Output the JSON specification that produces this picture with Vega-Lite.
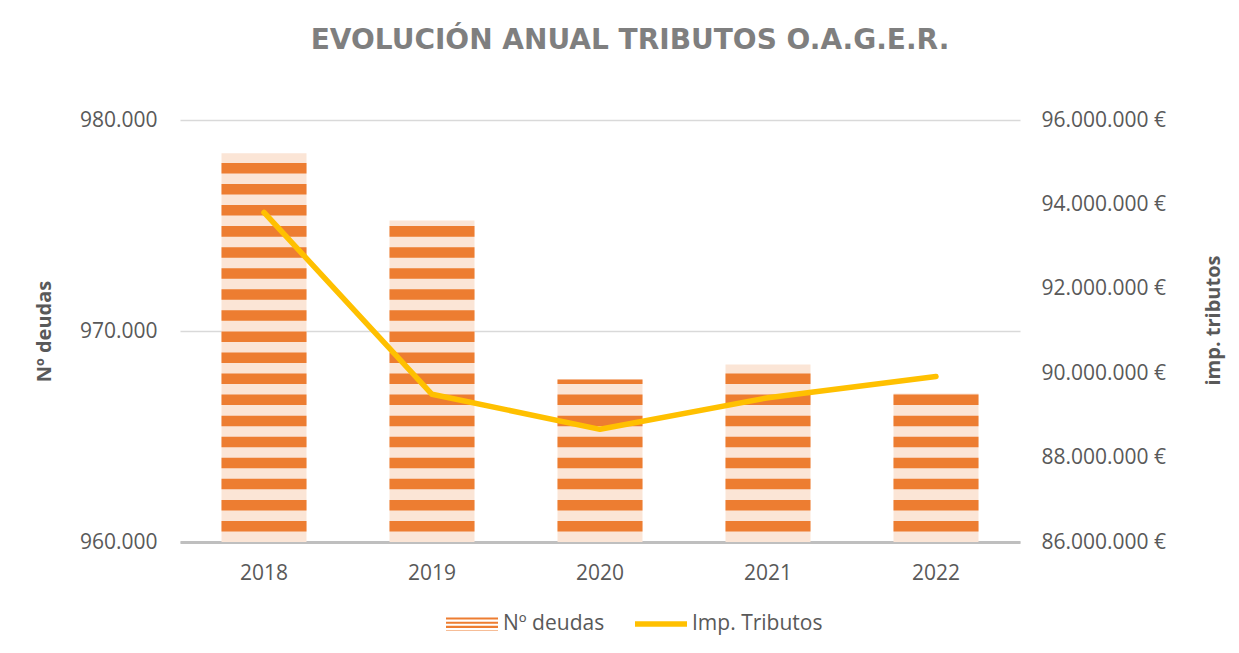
{
  "$schema": "https://vega.github.io/schema/vega-lite/v6.json",
  "width": 840,
  "height": 422,
  "autosize": {"type": "none"},
  "padding": {"left": 180, "top": 120, "right": 219, "bottom": 111},
  "background": "white",
  "config": {
    "locale": {"number": {"decimal": ",", "thousands": ".", "grouping": [3], "currency": ["", " €"]}},
    "view": {"stroke": null},
    "font": "Open Sans"
  },
  "title": {
    "text": "EVOLUCIÓN ANUAL TRIBUTOS O.A.G.E.R.",
    "anchor": "middle",
    "frame": "group",
    "dx": 30,
    "offset": 54,
    "font": "DejaVu Sans",
    "fontSize": 28,
    "fontWeight": "bold",
    "color": "#7F7F7F"
  },
  "data": {
    "values": [
      {"year": "2018", "deudas": 978420, "importe": 93810000},
      {"year": "2019", "deudas": 975240, "importe": 89500000},
      {"year": "2020", "deudas": 967700, "importe": 88670000},
      {"year": "2021", "deudas": 968410, "importe": 89420000},
      {"year": "2022", "deudas": 967040, "importe": 89920000}
    ]
  },
  "layer": [
    {
      "layer": [
        {
          "mark": {"type": "bar", "size": 85, "color": "#FBE5D6"},
          "encoding": {
            "x": {
              "field": "year", "type": "ordinal",
              "scale": {"paddingInner": 0, "paddingOuter": 0},
              "axis": {
                "title": null, "labelAngle": 0, "ticks": false,
                "domainColor": "#BFBFBF", "domainWidth": 3,
                "labelFont": "Open Sans", "labelFontSize": 21, "labelColor": "#595959",
                "labelPadding": 20
              }
            },
            "y": {
              "field": "deudas", "type": "quantitative",
              "scale": {"domain": [960000, 980000], "zero": false, "nice": false},
              "axis": {
                "title": "Nº deudas",
                "values": [960000, 970000, 980000],
                "format": ",.0f",
                "domain": false, "ticks": false,
                "gridColor": "#D9D9D9", "gridWidth": 1.5,
                "labelFont": "Open Sans", "labelFontSize": 21, "labelColor": "#595959",
                "labelPadding": 23,
                "titleFont": "Open Sans", "titleFontSize": 20, "titleFontWeight": "bold", "titleColor": "#595959",
                "titleX": -136, "titleY": 211, "titleAngle": -90, "titleBaseline": "middle", "titleAlign": "center"
              }
            },
            "y2": {"datum": 960000}
          }
        },
        {
          "mark": {"type": "rule", "strokeWidth": 85, "strokeDash": [10.53, 10.53], "strokeDashOffset": 10.53, "strokeCap": "butt"},
          "encoding": {
            "x": {"field": "year", "type": "ordinal"},
            "y": {"datum": 960000, "type": "quantitative", "title": "Nº deudas"},
            "y2": {"field": "deudas", "type": "quantitative"},
            "color": {
              "datum": "Nº deudas", "type": "nominal",
              "scale": {"domain": ["Nº deudas", "Imp. Tributos"], "range": ["#ED7D31", "#FFC000"]},
              "legend": {
                "title": null, "orient": "none", "legendX": 266, "legendY": 478,
                "direction": "horizontal",
                "symbolType": "M-1,-0.25H1V0.25H-1Z",
                "symbolSize": 2704,
                "symbolStrokeWidth": 0,
                "labelFont": "Open Sans", "labelFontSize": 21, "labelColor": "#595959",
                "columnPadding": 30, "labelOffset": 5, "padding": 0,
                "encode": {
                  "symbols": {
                    "update": {
                      "shape": {"signal": "datum.value === 'Nº deudas' ? 'M-1,-0.25H1V-0.17H-1Z M-1,-0.09H1V-0.01H-1Z M-1,0.07H1V0.15H-1Z M-1,0.23H1V0.25H-1Z' : 'M-1,-0.11H1V0.11H-1Z'"},
                      "fill": {"scale": "color", "field": "value"},
                      "strokeWidth": {"value": 0}
                    }
                  }
                }
              }
            }
          }
        }
      ]
    },
    {
      "mark": {"type": "line", "strokeWidth": 5.5, "strokeCap": "round", "strokeJoin": "round"},
      "encoding": {
        "x": {"field": "year", "type": "ordinal"},
        "y": {
          "field": "importe", "type": "quantitative",
          "scale": {"domain": [86000000, 96000000], "zero": false, "nice": false},
          "axis": {
            "orient": "right",
            "title": "imp. tributos",
            "values": [86000000, 88000000, 90000000, 92000000, 94000000, 96000000],
            "format": "$,.0f",
            "domain": false, "ticks": false, "grid": false,
            "labelFont": "Open Sans", "labelFontSize": 21, "labelColor": "#595959",
            "labelPadding": 21,
            "titleFont": "Open Sans", "titleFontSize": 20, "titleFontWeight": "bold", "titleColor": "#595959",
            "titleX": 193, "titleY": 200, "titleAngle": -90, "titleBaseline": "middle", "titleAlign": "center"
          }
        },
        "color": {"datum": "Imp. Tributos", "type": "nominal"}
      }
    }
  ],
  "resolve": {"scale": {"y": "independent"}}
}
